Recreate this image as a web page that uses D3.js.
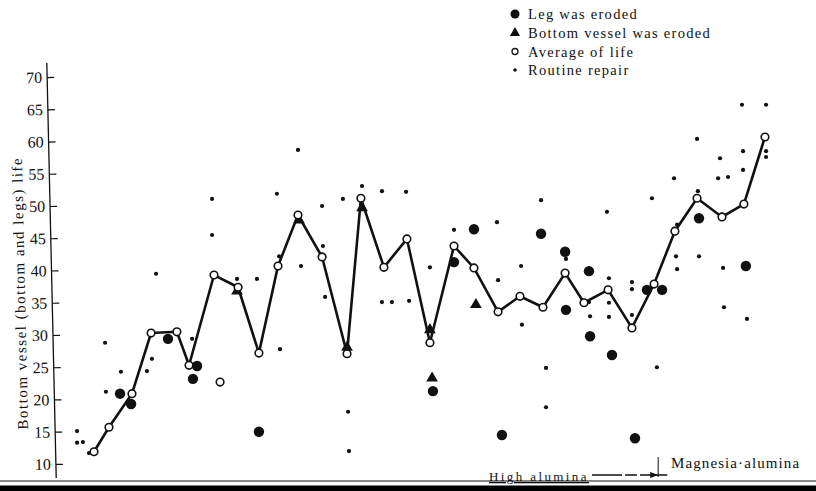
<!DOCTYPE html>
<html lang="en">
<head>
<meta charset="UTF-8">
<title>Bottom vessel life</title>
<style>
  body { margin: 0; background: #fff; }
  text { font-family: "Liberation Serif", "DejaVu Serif", serif; fill: #111; }
</style>
</head>
<body>
<div id="chart"></div>
<script src="https://cdn.jsdelivr.net/npm/d3@7"></script>
<script>
// position of each campaign along the (unlabelled) x axis
var xPos = [0, 0.69, 1.75, 2.63, 3.82, 4.38, 5.53, 6.64, 7.60, 8.48, 9.40, 10.51, 11.66, 12.30, 13.36, 14.42,
            15.48, 16.59, 17.51, 18.62, 19.63, 20.69, 21.71, 22.58, 23.69, 24.79, 25.81, 26.77, 27.79, 28.94, 29.95, 30.92];
var avgLife = [11.9, 15.7, 20.9, 30.3, 30.5, 25.3, 39.3, 37.4, 27.2, 40.7, 48.6, 42.1, 27.1, 51.2, 40.5, 44.9,
               28.8, 43.8, 40.4, 33.6, 36.0, 34.3, 39.6, 35.0, 37.0, 31.1, 37.9, 46.1, 51.2, 48.3, 50.3, 60.7];

// [x, life]
var routineRepair = [
  [-0.78, 15.1], [-0.78, 13.3], [-0.51, 13.4], [-0.23, 11.7], [0.51, 28.8], [0.55, 21.2], [1.24, 24.3],
  [2.44, 24.4], [2.67, 26.3], [2.86, 39.5], [4.52, 29.4], [5.44, 51.1], [5.44, 45.5], [6.59, 38.7],
  [7.51, 38.7], [8.43, 51.9], [8.53, 42.2], [8.57, 27.8], [9.40, 58.7], [9.54, 40.7], [10.51, 50.0],
  [10.55, 43.8], [10.65, 35.9], [11.47, 51.1], [11.71, 18.1], [11.75, 12.0], [12.35, 53.1], [13.27, 52.3],
  [14.38, 52.2], [13.27, 35.1], [13.73, 35.1], [14.52, 35.3], [15.48, 40.5], [16.59, 46.3], [18.57, 47.5],
  [18.62, 38.5], [19.68, 40.7], [19.72, 31.6], [20.60, 50.9], [20.83, 24.9], [20.83, 18.8], [21.75, 41.8],
  [22.81, 35.1], [22.86, 32.9], [23.64, 49.1], [23.73, 38.8], [23.73, 35.0], [23.73, 32.8], [24.79, 38.2],
  [24.79, 37.1], [24.79, 33.1], [25.71, 51.2], [25.94, 25.0], [26.73, 54.3], [26.87, 47.1], [26.82, 42.2],
  [26.87, 40.2], [27.79, 60.4], [27.83, 52.3], [27.88, 42.2], [28.76, 54.3], [29.22, 54.5], [28.85, 57.4],
  [28.99, 40.4], [29.03, 34.3], [29.86, 65.7], [29.91, 58.5], [29.91, 55.6], [30.09, 32.5], [30.97, 65.7],
  [30.97, 58.5], [30.97, 57.6]
];
var legEroded = [
  [1.20, 20.9], [1.71, 19.3], [3.41, 29.4], [4.56, 23.2], [4.75, 25.2], [7.60, 15.0], [15.62, 21.3],
  [16.59, 41.3], [17.51, 46.4], [18.80, 14.5], [20.60, 45.7], [21.71, 42.9], [21.75, 33.9], [22.81, 39.9],
  [22.86, 29.8], [23.87, 26.9], [24.93, 14.0], [25.48, 37.0], [26.18, 37.0], [27.88, 48.1], [30.04, 40.7]
];
var bottomEroded = [
  [6.59, 36.8], [9.45, 47.8], [11.66, 28.1], [12.35, 49.7], [15.48, 30.8], [15.58, 23.3], [17.60, 34.7]
];
var extraAverage = [[5.81, 22.7]];

var yTicks = [10, 15, 20, 25, 30, 35, 40, 45, 50, 55, 60, 65, 70];
var legendItems = ["Leg was eroded", "Bottom vessel was eroded", "Average of life", "Routine repair"];

var width = 816, height = 491;

var x = d3.scaleLinear().domain([0, 31]).range([94, 766.7]);
var y = d3.scaleLinear().domain([10, 70]).range([464, 77]);

var svg = d3.select("#chart").append("svg")
  .attr("width", width)
  .attr("height", height);

svg.append("rect").attr("width", width).attr("height", height).attr("fill", "#fff");

// y axis (the scan is slightly tilted)
var axisG = svg.append("g")
  .attr("transform", "rotate(-1.3, 51.5, 270) translate(51.5,0)");
axisG.call(d3.axisLeft(y).tickValues(yTicks).tickSize(-7).tickSizeOuter(0).tickPadding(5));
axisG.select(".domain").remove();
axisG.selectAll(".tick line").attr("stroke", "#111").attr("stroke-width", 1.2);
axisG.selectAll(".tick text")
  .style("font-family", '"Liberation Serif", "DejaVu Serif", serif')
  .style("font-size", "16px")
  .attr("fill", "#111");
axisG.append("line")
  .attr("x1", 0).attr("x2", 0).attr("y1", 63).attr("y2", 478)
  .attr("stroke", "#111").attr("stroke-width", 1.3);

svg.append("text")
  .attr("transform", "translate(25," + y(36.5) + ") rotate(-91.3)")
  .attr("text-anchor", "middle")
  .style("font-size", "15px")
  .style("letter-spacing", "1.5px")
  .text("Bottom vessel (bottom and legs) life");

// routine repair dots
svg.append("g").selectAll("circle")
  .data(routineRepair).enter().append("circle")
  .attr("cx", function(d) { return x(d[0]); })
  .attr("cy", function(d) { return y(d[1]); })
  .attr("r", 2.1)
  .attr("fill", "#111");

// leg eroded
svg.append("g").selectAll("circle")
  .data(legEroded).enter().append("circle")
  .attr("cx", function(d) { return x(d[0]); })
  .attr("cy", function(d) { return y(d[1]); })
  .attr("r", 5.2)
  .attr("fill", "#111");

// bottom vessel eroded
var tri = d3.symbol().type(d3.symbolTriangle).size(60);
svg.append("g").selectAll("path")
  .data(bottomEroded).enter().append("path")
  .attr("transform", function(d) { return "translate(" + x(d[0]) + "," + y(d[1]) + ")"; })
  .attr("d", tri)
  .attr("fill", "#111");

// average line
var line = d3.line()
  .x(function(d, i) { return x(xPos[i]); })
  .y(function(d) { return y(d); });
svg.append("path")
  .datum(avgLife)
  .attr("d", line)
  .attr("fill", "none")
  .attr("stroke", "#111")
  .attr("stroke-width", 2.6)
  .attr("stroke-linejoin", "miter");

svg.append("g").selectAll("circle")
  .data(avgLife).enter().append("circle")
  .attr("cx", function(d, i) { return x(xPos[i]); })
  .attr("cy", function(d) { return y(d); })
  .attr("r", 3.8)
  .attr("fill", "#fff")
  .attr("stroke", "#111")
  .attr("stroke-width", 1.6);

svg.append("g").selectAll("circle")
  .data(extraAverage).enter().append("circle")
  .attr("cx", function(d) { return x(d[0]); })
  .attr("cy", function(d) { return y(d[1]); })
  .attr("r", 3.8)
  .attr("fill", "#fff")
  .attr("stroke", "#111")
  .attr("stroke-width", 1.6);

// legend
var lg = svg.append("g").attr("transform", "translate(515,0)");
var legY = [14, 33, 51.5, 70];
lg.selectAll("text")
  .data(legendItems).enter().append("text")
  .attr("x", 13)
  .attr("y", function(d, i) { return legY[i] + 5; })
  .style("font-size", "14.5px")
  .style("letter-spacing", "1.3px")
  .text(function(d) { return d; });
lg.append("circle").attr("cx", 0).attr("cy", legY[0]).attr("r", 4.5).attr("fill", "#111");
lg.append("path").attr("transform", "translate(0," + legY[1] + ")")
  .attr("d", d3.symbol().type(d3.symbolTriangle).size(45)).attr("fill", "#111");
lg.append("circle").attr("cx", 0).attr("cy", legY[2]).attr("r", 3)
  .attr("fill", "#fff").attr("stroke", "#111").attr("stroke-width", 1.3);
lg.append("circle").attr("cx", 0).attr("cy", legY[3]).attr("r", 1.8).attr("fill", "#111");

// refractory zones
var split = x(26.0);
svg.append("text")
  .attr("x", 489).attr("y", 481)
  .style("font-size", "13px")
  .style("letter-spacing", "2.4px")
  .style("text-decoration", "underline")
  .text("High alumina");
svg.append("line")
  .attr("x1", 592).attr("x2", split + 9).attr("y1", 475).attr("y2", 475)
  .attr("stroke", "#111").attr("stroke-width", 1.4)
  .attr("stroke-dasharray", "30,3,12,3,40");
svg.append("path")
  .attr("d", "M" + (split - 8) + ",472 L" + split + ",475 L" + (split - 8) + ",478 Z")
  .attr("fill", "#111");
svg.append("line")
  .attr("x1", split).attr("x2", split).attr("y1", 457).attr("y2", 477)
  .attr("stroke", "#111").attr("stroke-width", 1);
svg.append("text")
  .attr("x", 671).attr("y", 468)
  .style("font-size", "15px")
  .style("letter-spacing", "1.1px")
  .text("Magnesia\u00b7alumina");

// bottom edge of the scan
svg.append("line")
  .attr("x1", 0).attr("x2", width).attr("y1", 481).attr("y2", 481)
  .attr("stroke", "#111").attr("stroke-width", 1.2);
svg.append("rect")
  .attr("x", 0).attr("y", 485.5).attr("width", width).attr("height", 6)
  .attr("fill", "#000");
</script>
</body>
</html>
